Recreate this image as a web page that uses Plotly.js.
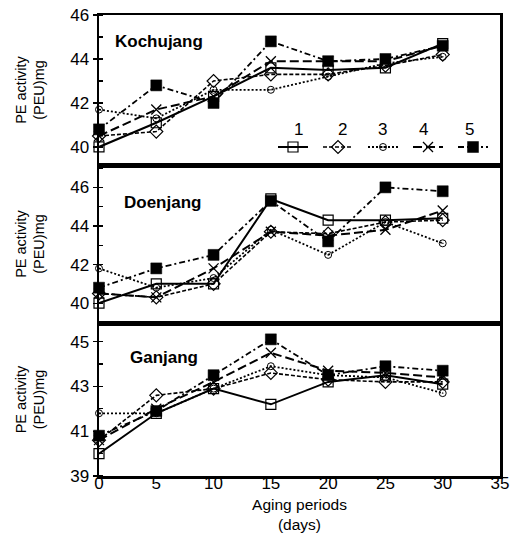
<!DOCTYPE html>
<html><head><meta charset="utf-8">
<script src="https://cdn.plot.ly/plotly-3.0.1.min.js"></script>
<style>body{margin:0;background:#fff}</style></head>
<body><div id="chart" style="width:527px;height:533px"></div>
<script>
const days = [0, 5, 10, 15, 20, 25, 30];
const seriesLabels = ['1', '2', '3', '4', '5'];
const panelNames = ['Kochujang', 'Doenjang', 'Ganjang'];

const kochujang1 = [40.0, 41.1, 42.3, 43.6, 43.5, 43.6, 44.7];
const kochujang2 = [40.5, 40.7, 43.0, 43.3, 43.3, 43.7, 44.2];
const kochujang3 = [41.7, 41.3, 42.6, 42.6, 43.2, 43.8, 44.1];
const kochujang4 = [40.5, 41.7, 42.3, 43.9, 43.9, 43.9, 44.6];
const kochujang5 = [40.8, 42.8, 42.0, 44.8, 43.9, 44.0, 44.6];

const doenjang1 = [40.0, 41.0, 41.0, 45.4, 44.3, 44.3, 44.4];
const doenjang2 = [40.5, 40.3, 41.0, 43.7, 43.6, 44.2, 44.3];
const doenjang3 = [41.8, 40.8, 41.3, 43.8, 42.5, 44.2, 43.1];
const doenjang4 = [40.5, 40.3, 41.8, 43.7, 43.5, 43.8, 44.8];
const doenjang5 = [40.8, 41.8, 42.5, 45.3, 43.2, 46.0, 45.8];

const ganjang1 = [40.0, 41.8, 42.9, 42.2, 43.2, 43.5, 43.1];
const ganjang2 = [40.6, 42.6, 42.9, 43.6, 43.3, 43.2, 43.2];
const ganjang3 = [41.8, 41.8, 42.9, 43.9, 43.5, 43.4, 42.7];
const ganjang4 = [40.6, 42.0, 43.2, 44.5, 43.7, 43.6, 43.4];
const ganjang5 = [40.8, 41.9, 43.5, 45.1, 43.5, 43.9, 43.7];

const styles = [
  {line: {color: '#000', width: 2, dash: 'solid'}, marker: {symbol: 'square-open', size: 10, color: '#000', line: {width: 1.2, color: '#000'}}},
  {line: {color: '#000', width: 1.6, dash: '4px,2px'}, marker: {symbol: 'diamond-open', size: 10, color: '#000', line: {width: 1.2, color: '#000'}}},
  {line: {color: '#000', width: 1.8, dash: '2px,2px'}, marker: {symbol: 'circle-open-dot', size: 7, color: '#000', line: {width: 1, color: '#000'}}},
  {line: {color: '#000', width: 2, dash: '9px,4px'}, marker: {symbol: 'x-thin-open', size: 10, color: '#000', line: {width: 1.3, color: '#000'}}},
  {line: {color: '#000', width: 1.8, dash: '6px,3px,2px,3px'}, marker: {symbol: 'square', size: 11, color: '#000', line: {width: 0.5, color: '#000'}}}
];

const panels = [
  {data: [kochujang1, kochujang2, kochujang3, kochujang4, kochujang5], xa: 'x3', ya: 'y3'},
  {data: [doenjang1, doenjang2, doenjang3, doenjang4, doenjang5], xa: 'x2', ya: 'y2'},
  {data: [ganjang1, ganjang2, ganjang3, ganjang4, ganjang5], xa: 'x', ya: 'y'}
];

const traces = [];
panels.forEach((p, pi) => {
  p.data.forEach((vals, si) => {
    traces.push({
      x: days, y: vals, xaxis: p.xa, yaxis: p.ya,
      type: 'scatter', mode: 'lines+markers',
      name: '', showlegend: pi === 0,
      line: styles[si].line, marker: styles[si].marker,
      cliponaxis: false
    });
  });
});

const FONT = 'Liberation Sans, Arial, sans-serif';
const H = 461;
const d3 = [0, 153 / H], d2 = [153 / H, 311 / H], d1 = [311 / H, 1];

function yax(domain, range, tick0, anchor) {
  return {
    domain: domain, range: range, anchor: anchor, dtick: 2, tick0: tick0,
    showgrid: false, zeroline: false,
    showline: true, mirror: true, linecolor: '#000', linewidth: 2.5,
    ticks: 'outside', ticklen: 4, tickwidth: 1.2, tickcolor: '#000',
    minor: {dtick: 1, ticks: 'inside', ticklen: 4, tickwidth: 1.2, tickcolor: '#000'},
    tickfont: {family: FONT, size: 17, color: '#000'},
    title: {text: 'PE activity<br>(PEU)mg', font: {family: FONT, size: 14.5, color: '#000'}, standoff: 22}
  };
}
function xax(anchor, show) {
  const a = {
    anchor: anchor, range: [0, 35], dtick: 5, tick0: 0,
    showgrid: false, zeroline: false,
    showline: true, mirror: true, linecolor: '#000', linewidth: 2.5,
    ticks: '', showticklabels: show,
    tickfont: {family: FONT, size: 17, color: '#000'}
  };
  if (anchor !== 'y') a.matches = 'x';
  return a;
}

const xb = xax('y', true);
xb.ticklabelstandoff = -10;
xb.title = {text: 'Aging periods<br>(days)', font: {family: FONT, size: 15.5, color: '#000'}, standoff: 13};

const legendLabelX = [298, 342, 382, 423, 469];
const annotations = [];
seriesLabels.forEach((s, i) => annotations.push({
  xref: 'paper', yref: 'paper', x: (legendLabelX[i] - 99) / 401, y: 1 - (129 - 15) / H, text: s, showarrow: false,
  font: {family: FONT, size: 17, color: '#000'}, xanchor: 'center', yanchor: 'middle'
}));
const titleLeft = [113, 122, 128];
const titleMid = [42, 202, 357];
panelNames.forEach((n, i) => annotations.push({
  xref: 'paper', yref: 'paper',
  x: (titleLeft[i] - 99) / 401, y: 1 - (titleMid[i] - 15) / H,
  text: '<b>' + n + '</b>', showarrow: false, xanchor: 'left', yanchor: 'middle',
  font: {family: FONT, size: 17, color: '#000'}
}));

const layout = {
  width: 527, height: 533,
  margin: {l: 99, r: 27, t: 15, b: 57},
  paper_bgcolor: '#fff', plot_bgcolor: '#fff',
  showlegend: true,
  legend: {
    orientation: 'h', traceorder: 'normal', x: (273 - 99) / 401, xanchor: 'left', y: 1 - (147 - 15) / H, yanchor: 'middle',
    bgcolor: 'rgba(0,0,0,0)', borderwidth: 0,
    font: {family: FONT, size: 10, color: '#000'}, itemwidth: 30
  },
  xaxis: xb, xaxis2: xax('y2', false), xaxis3: xax('y3', false),
  yaxis: yax(d3, [39, 45.83], 39, 'x'),
  yaxis2: yax(d2, [38.97, 47.16], 40, 'x2'),
  yaxis3: yax(d1, [39.18, 46], 40, 'x3'),
  annotations: annotations
};

Plotly.newPlot('chart', traces, layout, {displayModeBar: false, staticPlot: true});
</script>
</body></html>
